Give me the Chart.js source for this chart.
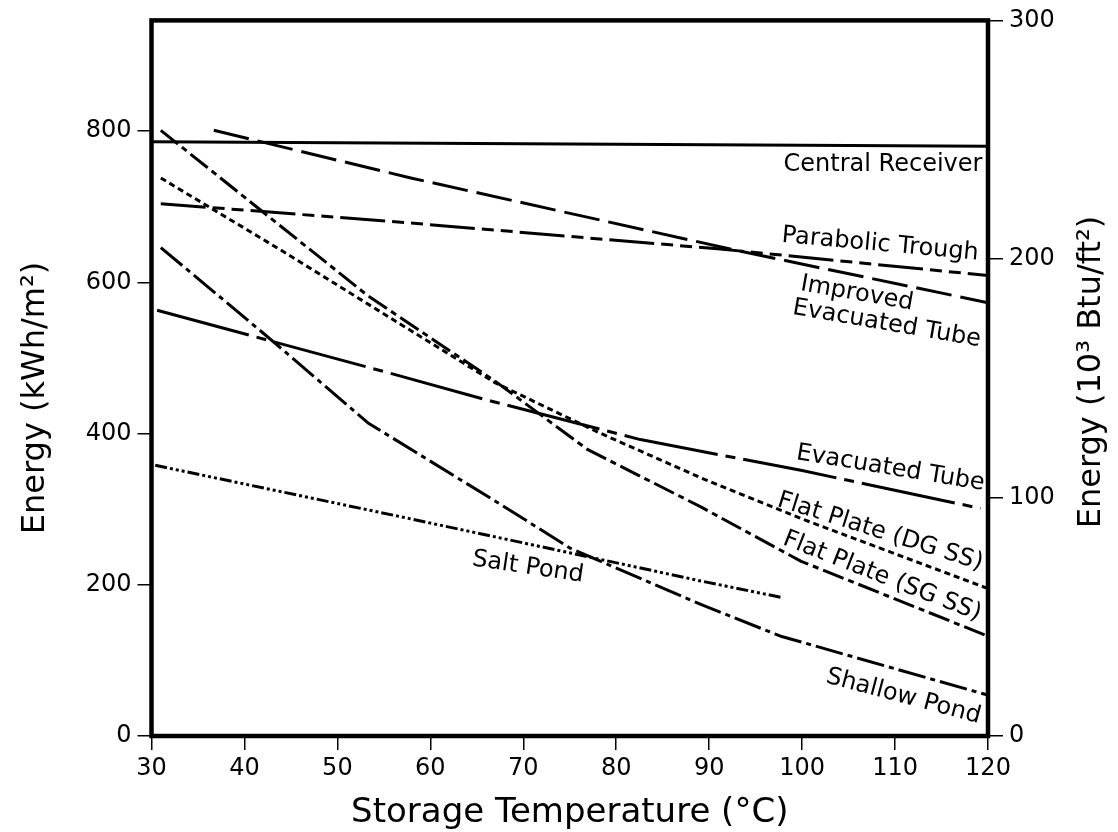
<!DOCTYPE html>
<html><head><meta charset="utf-8">
<script src="https://cdn.jsdelivr.net/npm/chart.js@4.4.1/dist/chart.umd.min.js"></script>
<style>html,body{margin:0;padding:0;background:#fff;}canvas{display:block;}</style>
</head><body>
<canvas id="c" width="1118" height="832"></canvas>
<script>
// ---- tick labels ----
const xTicks = [30, 40, 50, 60, 70, 80, 90, 100, 110, 120];
const leftTicks = [0, 200, 400, 600, 800];
const rightTicks = [0, 100, 200, 300];
const KWH_PER_KBTU = 3.1546;   // 1 kBtu/ft2 = 3.1546 kWh/m2
const rightMax = 300;

// ---- series (storage temperature in degC, energy in kWh/m2) ----
const centralReceiverT = [30, 120];
const centralReceiverE = [786, 780];

const improvedEvacT = [36.7, 57.9, 93.4, 120];
const improvedEvacE = [801, 738, 641, 573];

const parabolicTroughT = [31, 57.3, 91.2, 120];
const parabolicTroughE = [704, 679, 644, 609];

const flatPlateDGT = [31, 44, 57, 67, 78, 89, 100, 120];
const flatPlateDGE = [738, 642, 543, 467, 402, 342, 287, 195];

const flatPlateSGT = [31, 53.3, 67, 76.9, 89.1, 99.9, 120];
const flatPlateSGE = [801, 582, 469, 379, 303, 231, 132];

const shallowPondT = [31, 42.1, 53.3, 67.6, 75.1, 89.1, 97.7, 120];
const shallowPondE = [646, 532, 414, 306, 248, 174, 132, 54];

const evacTubeT = [30.6, 56.8, 66.5, 82.6, 100, 119.2];
const evacTubeE = [563, 476, 443, 392, 351, 301];

const saltPondT = [30.4, 56.8, 75.1, 89.1, 97.9];
const saltPondE = [358, 290, 242, 205, 183];

// ---- curve label annotations (anchored in data units) ----
const labelTexts = ['Central Receiver', 'Parabolic Trough', 'Improved', 'Evacuated Tube',
  'Evacuated Tube', 'Flat Plate (DG SS)', 'Flat Plate (SG SS)', 'Shallow Pond', 'Salt Pond'];
const labelT = [108.7, 108.4, 105.9, 109.1, 109.5, 108.4, 108.6, 110.9, 70.5];
const labelE = [755, 650, 585, 545, 354, 270, 211, 52, 223];
const labelAngle = [0, 5.2, 10, 9.8, 9.4, 17.4, 21.3, 14.9, 8.4];

const pts = (t, e) => t.map((v, i) => ({ x: v, y: e[i] }));

const FONT = 'DejaVu Sans';

function ds(label, t, e, dash) {
  return { label, data: pts(t, e), borderColor: '#000', borderWidth: 3,
    borderDash: dash, pointRadius: 0, fill: false, tension: 0,
    borderCapStyle: 'butt', borderJoinStyle: 'round' };
}

const framePlugin = {
  id: 'frameAndText',
  afterDraw(chart) {
    const ctx = chart.ctx;
    const a = chart.chartArea;
    const xs = chart.scales.x, ys = chart.scales.y;
    ctx.save();
    ctx.strokeStyle = '#000';
    ctx.lineWidth = 4.5;
    ctx.lineJoin = 'miter';
    ctx.strokeRect(a.left, a.top, a.right - a.left, a.bottom - a.top);

    ctx.fillStyle = '#000';
    ctx.font = '24px "' + FONT + '"';
    ctx.textAlign = 'center';
    ctx.textBaseline = 'middle';
    labelTexts.forEach((txt, i) => {
      const px = xs.getPixelForValue(labelT[i]);
      const py = ys.getPixelForValue(labelE[i]);
      ctx.save();
      ctx.translate(px, py);
      ctx.rotate(labelAngle[i] * Math.PI / 180);
      ctx.fillText(txt, 0, 0);
      ctx.restore();
    });

    // axis titles
    ctx.font = '34px "' + FONT + '"';
    ctx.textBaseline = 'alphabetic';
    ctx.fillText('Storage Temperature (°C)', (a.left + a.right) / 2, 822);

    ctx.font = '32px "' + FONT + '"';
    ctx.save();
    ctx.translate(44, 398);
    ctx.rotate(-Math.PI / 2);
    ctx.fillText('Energy (kWh/m²)', 0, 0);
    ctx.restore();

    ctx.save();
    ctx.translate(1100, 372);
    ctx.rotate(-Math.PI / 2);
    ctx.fillText('Energy (10³ Btu/ft²)', 0, 0);
    ctx.restore();
    ctx.restore();
  }
};

const tickFont = { family: FONT, size: 24 };
const gridCfg = (len) => ({ display: true, drawOnChartArea: false, drawTicks: true,
  tickLength: len, color: '#000', lineWidth: 1.5 });

new Chart(document.getElementById('c'), {
  type: 'line',
  data: {
    datasets: [
      ds('Central Receiver', centralReceiverT, centralReceiverE, []),
      ds('Improved Evacuated Tube', improvedEvacT, improvedEvacE, [36, 9]),
      ds('Parabolic Trough', parabolicTroughT, parabolicTroughE, [45, 7, 12, 7, 12, 7]),
      ds('Flat Plate (DG SS)', flatPlateDGT, flatPlateDGE, [6, 4]),
      ds('Flat Plate (SG SS)', flatPlateSGT, flatPlateSGE, [22, 5, 6, 5]),
      ds('Shallow Pond', shallowPondT, shallowPondE, [28, 5, 5, 5]),
      ds('Evacuated Tube', evacTubeT, evacTubeE, [95, 8, 10, 8]),
      ds('Salt Pond', saltPondT, saltPondE, [12, 3, 3, 3, 3, 3, 3, 3])
    ]
  },
  options: {
    responsive: false,
    animation: false,
    devicePixelRatio: 1,
    layout: { padding: { top: 14, left: 0, right: 0, bottom: 0 } },
    plugins: { legend: { display: false }, tooltip: { enabled: false }, title: { display: false } },
    scales: {
      x: {
        type: 'linear', position: 'bottom', min: 30, max: 120,
        afterBuildTicks: s => { s.ticks = xTicks.map(v => ({ value: v })); },
        afterFit: s => { s.height = 96; },
        grid: gridCfg(14), border: { display: false },
        ticks: { color: '#000', font: tickFont, padding: 4, maxRotation: 0, autoSkip: false }
      },
      y: {
        type: 'linear', position: 'left', min: 0, max: rightMax * KWH_PER_KBTU,
        afterBuildTicks: s => { s.ticks = leftTicks.map(v => ({ value: v })); },
        afterFit: s => { s.width = 151.5; },
        grid: gridCfg(14), border: { display: false },
        ticks: { color: '#000', font: tickFont, padding: 6 }
      },
      y2: {
        type: 'linear', position: 'right', min: 0, max: rightMax,
        afterBuildTicks: s => { s.ticks = rightTicks.map(v => ({ value: v })); },
        afterFit: s => { s.width = 130; },
        grid: gridCfg(15), border: { display: false },
        ticks: { color: '#000', font: tickFont, padding: 6 }
      }
    }
  },
  plugins: [framePlugin]
});
</script>
</body></html>
